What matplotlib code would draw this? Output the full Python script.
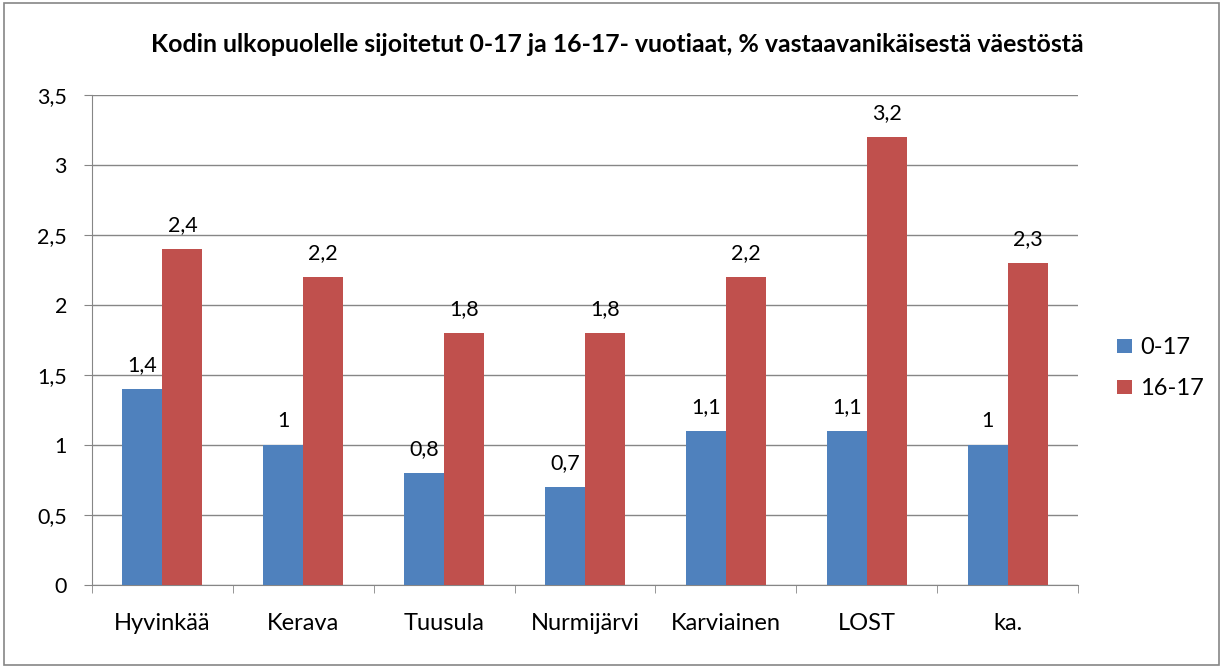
import numpy as np
import matplotlib.pyplot as plt
from matplotlib.patches import Rectangle

plt.rcParams['font.family'] = ['Lato', 'DejaVu Sans']

categories = ['Hyvinkää', 'Kerava', 'Tuusula', 'Nurmijärvi', 'Karviainen', 'LOST', 'ka.']
vals_0_17 = [1.4, 1.0, 0.8, 0.7, 1.1, 1.1, 1.0]
vals_16_17 = [2.4, 2.2, 1.8, 1.8, 2.2, 3.2, 2.3]
series_names = ['0-17', '16-17']
title = 'Kodin ulkopuolelle sijoitetut 0-17 ja 16-17- vuotiaat, % vastaavanikäisestä väestöstä'

blue = '#4F81BD'
red = '#C0504D'


def fmt(v):
    s = f'{v:g}'
    return s.replace('.', ',')


fig = plt.figure(figsize=(12.23, 6.68), dpi=100)
fig.patches.append(Rectangle((0.003, 0.004), 0.994, 0.992, transform=fig.transFigure,
                             fill=False, edgecolor='#868686', lw=1.2))
ax = fig.add_axes([0.0752, 0.1243, 0.8063, 0.7335])

x = np.arange(len(categories))
w = 0.284
b1 = ax.bar(x - w / 2, vals_0_17, w, color=blue, label=series_names[0], zorder=3)
b2 = ax.bar(x + w / 2, vals_16_17, w, color=red, label=series_names[1], zorder=3)

for bars, vals in ((b1, vals_0_17), (b2, vals_16_17)):
    for r, v in zip(bars, vals):
        ax.text(r.get_x() + r.get_width() / 2, v + 0.1, fmt(v), ha='center', va='bottom',
                fontsize=15.5)

ax.set_xlim(-0.5, len(categories) - 0.5)
ax.set_ylim(0, 3.5)
yt = np.arange(0, 3.51, 0.5)
ax.set_yticks(yt)
ax.set_yticklabels([fmt(v) for v in yt], fontsize=15.5)
ax.set_xticks(x)
ax.set_xticklabels(categories, fontsize=17)
ax.tick_params(axis='x', length=0, pad=20)
ax.tick_params(axis='y', length=6, color='#868686', pad=12)
ax.set_xticks(np.arange(-0.5, len(categories)), minor=True)
ax.tick_params(axis='x', which='minor', length=6, color='#868686')

ax.grid(axis='y', color='#868686', lw=1, zorder=0)
for s in ('top', 'right'):
    ax.spines[s].set_visible(False)
ax.spines['left'].set_color('#868686')
ax.spines['bottom'].set_color('#868686')

fig.text(617 / 1223, 1 - 45 / 668, title, ha='center', va='center', fontsize=17.9,
         fontweight='bold')

fig.legend(handles=[b1, b2], labels=series_names, loc='center left',
           bbox_to_anchor=(1117 / 1223, 1 - 368 / 668), frameon=False, fontsize=17,
           handlelength=0.64, handleheight=0.55, labelspacing=0.85, handletextpad=0.35,
           borderpad=0, borderaxespad=0)

fig.savefig('out.png', dpi=100)
